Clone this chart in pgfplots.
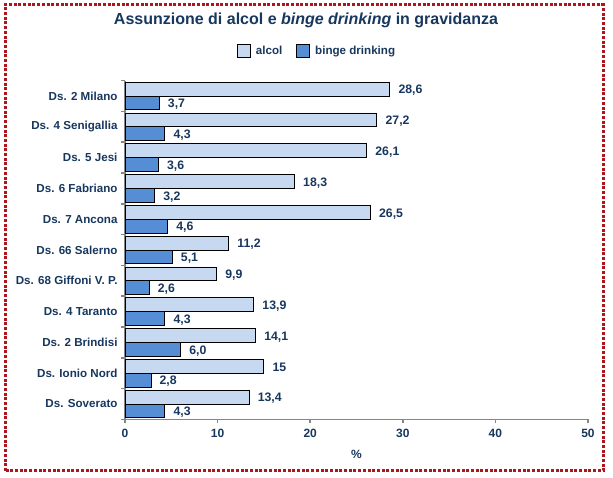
\documentclass[border=0pt]{standalone}
\usepackage{pgfplots}
\pgfplotsset{compat=1.18}
\usepackage{pgfplotstable}
\usepackage{fontspec}
\setmainfont{Liberation Sans}
\definecolor{navy}{HTML}{17375E}
\definecolor{lightbar}{HTML}{C6D9F1}
\definecolor{darkbar}{HTML}{558ED5}
\definecolor{axgray}{HTML}{868686}
\definecolor{bred}{HTML}{B0141C}
\pgfplotstableread{
idx alc alcl bd bdl
0 28.6 28,6 3.7 3,7
1 27.2 27,2 4.3 4,3
2 26.1 26,1 3.6 3,6
3 18.3 18,3 3.2 3,2
4 26.5 26,5 4.6 4,6
5 11.2 11,2 5.1 5,1
6 9.9 9,9 2.6 2,6
7 13.9 13,9 4.3 4,3
8 14.1 14,1 6.0 6,0
9 15 15 2.8 2,8
10 13.4 13,4 4.3 4,3
}\data
\begin{document}
\begin{tikzpicture}
\useasboundingbox (0,0) rectangle (613bp,478bp);
\draw[bred, line width=3bp, dash pattern=on 3bp off 1.7bp] (5bp,7bp) rectangle (603bp,473bp);
\node[font=\fontsize{16bp}{19bp}\selectfont\bfseries, text=navy] at (306bp,458bp) {Assunzione di alcol e \textit{binge drinking} in gravidanza};
\begin{axis}[
  at={(125bp,58.6bp)}, anchor=south west,
  scale only axis, width=463bp, height=338.8bp,
  xbar, bar width=0.45,
  xmin=0, xmax=50, ymin=-0.5, ymax=10.5, y dir=reverse,
  axis x line*=bottom, axis y line*=left,
  axis line style={axgray, line width=1.5bp, -},
  xtick={0,10,...,50},
  ytick={0,...,10},
  yticklabels={Ds. 2 Milano, Ds. 4 Senigallia, Ds. 5 Jesi, Ds. 6 Fabriano, Ds. 7 Ancona, Ds. 66 Salerno, Ds. 68 Giffoni V. P., Ds. 4 Taranto, Ds. 2 Brindisi, Ds. Ionio Nord, Ds. Soverato},
  minor ytick={-0.5,0.5,...,10.5},
  tick align=outside,
  major tick length=4bp, minor tick length=4bp,
  tick style={axgray, line width=1.5bp},
  every major y tick/.append style={draw=none},
  /pgf/number format/assume math mode=true,
  yticklabel style={font=\fontsize{11.6bp}{13bp}\selectfont\bfseries, text=navy},
  xticklabel style={font=\fontsize{12bp}{14bp}\selectfont\bfseries, text=navy, yshift=-2bp},
  xlabel={\%},
  xlabel style={font=\fontsize{12bp}{14bp}\selectfont\bfseries, text=navy, yshift=-6bp},
  legend columns=2,
  legend style={at={(0.415,1.087)}, anchor=center, draw=none, fill=none,
    font=\fontsize{11.6bp}{13bp}\selectfont\bfseries, text=navy,
    /tikz/every odd column/.append style={column sep=3bp},
    /tikz/every even column/.append style={column sep=12bp}},
  legend image code/.code={\draw[#1,/tikz/.cd, line width=0.8bp] (0bp,-6.5bp) rectangle (13bp,6.5bp);},
  nodes near coords,
  point meta=explicit symbolic,
  every node near coord/.append style={font=\fontsize{12.3bp}{14bp}\selectfont\bfseries, text=navy, anchor=west, xshift=5bp, yshift=-1.5bp},
]
\addplot[draw=black, fill=lightbar, line width=0.8bp, bar shift=-0.225] table[x=alc, y=idx, meta=alcl] {\data};
\addplot[draw=black, fill=darkbar, line width=0.8bp, bar shift=0.225] table[x=bd, y=idx, meta=bdl] {\data};
\legend{alcol, binge drinking}
\end{axis}
\end{tikzpicture}
\end{document}
